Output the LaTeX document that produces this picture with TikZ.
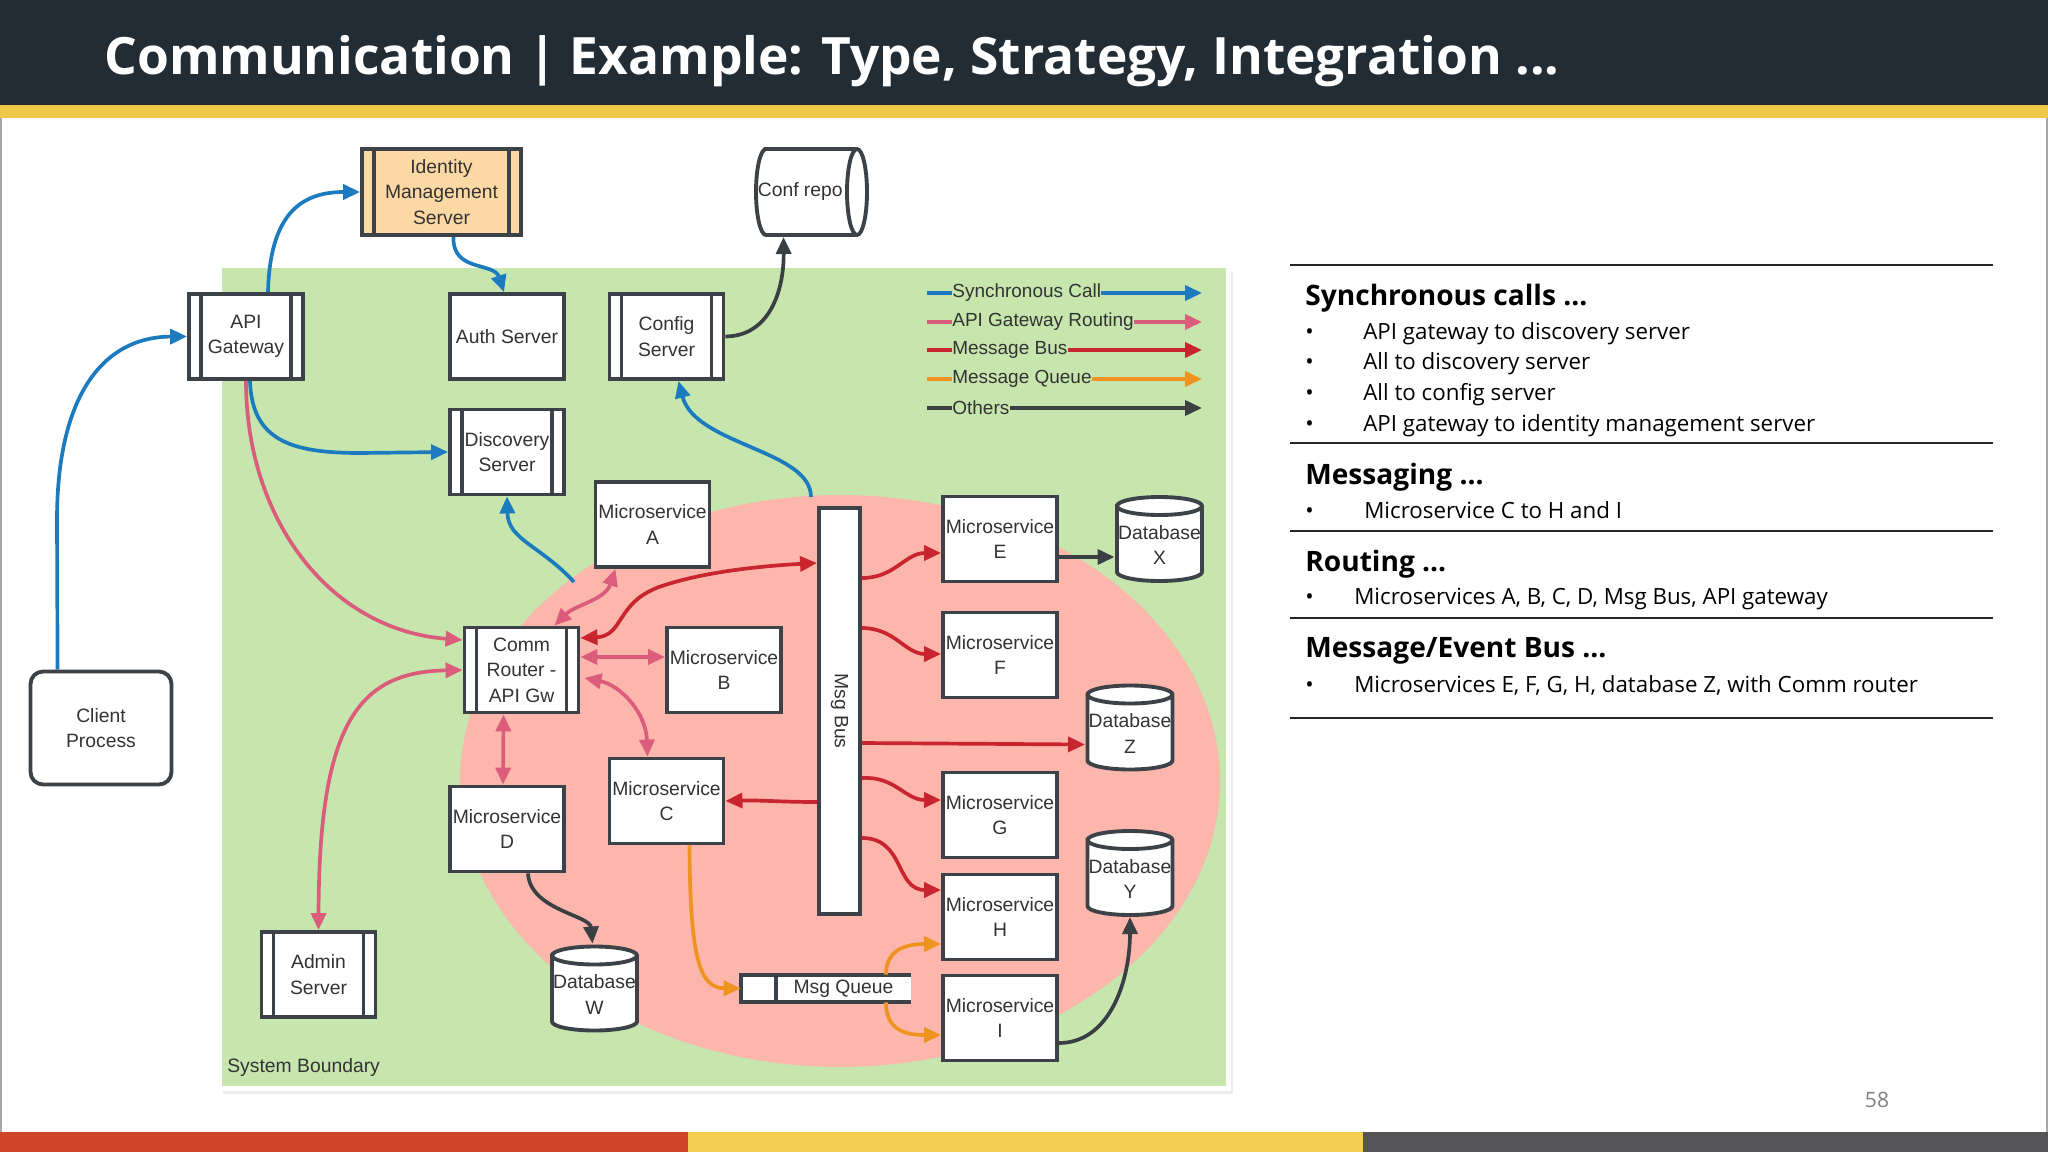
\documentclass[tikz,border=0pt]{standalone}
\usepackage{fontspec}
\setmainfont{Liberation Sans}
\newfontfamily\slidefont{Open Sans}
\usepackage{graphicx}
\usepackage{tikz}
\usetikzlibrary{arrows.meta,positioning,shapes.geometric,calc}
\usepackage{xcolor}

\definecolor{headbg}{HTML}{222C35}
\definecolor{headbar}{HTML}{F2C84B}
\definecolor{zonegreen}{HTML}{C6E6AE}
\definecolor{zonepink}{HTML}{FCB6AC}
\definecolor{edge}{HTML}{3C4248}
\definecolor{ink}{HTML}{333333}
\definecolor{synccol}{HTML}{1B7BBE}
\definecolor{routecol}{HTML}{DC5C7C}
\definecolor{buscol}{HTML}{C9252E}
\definecolor{queuecol}{HTML}{EE931F}
\definecolor{othercol}{HTML}{3A3F44}
\definecolor{peach}{HTML}{FCD9A4}
\definecolor{footred}{HTML}{CF4527}
\definecolor{footyellow}{HTML}{F4CD50}
\definecolor{footgrey}{HTML}{555557}

% database drum: name, x, y, text
\newcommand{\dbnode}[4]{%
  \draw[cylline, fill=white] ({#2-42.5},{#3-33}) -- ({#2-42.5},{#3+33})
    arc[start angle=180, end angle=360, x radius=0.85cm, y radius=0.18cm] -- ({#2+42.5},{#3-33})
    arc[start angle=0, end angle=180, x radius=0.85cm, y radius=0.18cm] -- cycle;
  \draw[cylline] ({#2-42.5},{#3-33}) arc[start angle=180, end angle=360, x radius=0.85cm, y radius=0.18cm];
  \node[dbtext] (#1) at (#2,{#3+6}) {#4};}

\begin{document}
\begin{tikzpicture}[x=0.02cm, y=-0.02cm,
  >={Triangle[length=0.34cm,width=0.3cm]},
  box/.style={draw=edge, line width=2.2pt, fill=white, minimum width=2.28cm, minimum height=1.7cm, inner sep=0pt, align=center, text=ink, font=\fontsize{11}{14.5}\selectfont},
  proc/.style={box, path picture={
    \draw[edge, line width=2.2pt]
      ([xshift=0.24cm]path picture bounding box.north west) -- ([xshift=0.24cm]path picture bounding box.south west)
      ([xshift=-0.24cm]path picture bounding box.north east) -- ([xshift=-0.24cm]path picture bounding box.south east);}},
  cylline/.style={draw=edge, line width=2.2pt},
  dbtext/.style={minimum width=1.7cm, minimum height=1.68cm, inner sep=0pt, align=center, text=ink, font=\fontsize{11}{14.5}\selectfont},
  roundbox/.style={box, rounded corners=0.25cm, minimum width=2.82cm, minimum height=2.26cm},
  qbox/.style={fill=white, minimum width=3.4cm, minimum height=0.54cm, inner sep=0pt, text=ink, font=\fontsize{11}{14.5}\selectfont},
  link/.style={line width=2.1pt, ->},
  syncarr/.style={link, color=synccol},
  routearr/.style={link, color=routecol},
  busarr/.style={link, color=buscol},
  queuearr/.style={link, color=queuecol},
  otherarr/.style={link, color=othercol},
  legtext/.style={anchor=west, inner sep=0pt, text=ink, font=\fontsize{10.8}{12}\selectfont},
  rule/.style={line width=1.1pt, draw=black!85},
  head/.style={anchor=west, inner sep=0pt, font=\slidefont\bfseries\fontsize{16}{19}\selectfont},
  item/.style={anchor=west, inner sep=0pt, font=\slidefont\fontsize{12.7}{15}\selectfont}
]
\useasboundingbox (0,0) rectangle (2048,1152);

% Slide frame
\fill[headbg] (0,0) rectangle (2048,105);
\fill[headbar] (0,105) rectangle (2048,118);
\fill[footred] (0,1132) rectangle (688,1152);
\fill[footyellow] (688,1132) rectangle (1363,1152);
\fill[footgrey] (1363,1132) rectangle (2048,1152);
\draw[black!35, line width=0.8pt] (1,118) -- (1,1132) (2047,118) -- (2047,1132);
\node[anchor=west, inner sep=0pt, text=white, font=\slidefont\bfseries\fontsize{29.3}{32}\selectfont] (title) at (104,61) {Communication | Example: Type, Strategy, Integration ...};
\node[text=black!50, font=\slidefont\fontsize{12}{14}\selectfont] (pageno) at (1877,1100) {58};

% System boundary and messaging zone
\fill[black!8] (223,271) rectangle (1233,1094);
\draw[white, line width=0.1cm, fill=zonegreen] (219,266) rectangle (1228,1088);
\fill[zonepink] (840,781) ellipse [x radius=7.6cm, y radius=5.72cm];
\node[anchor=west, inner sep=0pt, text=ink, font=\fontsize{11}{13}\selectfont] (zonelbl) at (227,1067) {System Boundary};

% Legend
\coordinate (ls1) at (927,293); \coordinate (le1) at (1202,293);
\coordinate (ls2) at (927,322); \coordinate (le2) at (1202,322);
\coordinate (ls3) at (927,350); \coordinate (le3) at (1202,350);
\coordinate (ls4) at (927,379); \coordinate (le4) at (1202,379);
\coordinate (ls5) at (927,408); \coordinate (le5) at (1202,408);
\node[legtext] (lg1) at (952,293) {Synchronous Call};
\node[legtext] (lg2) at (952,322) {API Gateway Routing};
\node[legtext] (lg3) at (952,350) {Message Bus};
\node[legtext] (lg4) at (952,379) {Message Queue};
\node[legtext] (lg5) at (952,408) {Others};
\draw[syncarr, -] (ls1) -- (lg1.west); \draw[syncarr] (lg1.east) -- (le1);
\draw[routearr, -] (ls2) -- (lg2.west); \draw[routearr] (lg2.east) -- (le2);
\draw[busarr, -] (ls3) -- (lg3.west); \draw[busarr] (lg3.east) -- (le3);
\draw[queuearr, -] (ls4) -- (lg4.west); \draw[queuearr] (lg4.east) -- (le4);
\draw[otherarr, -] (ls5) -- (lg5.west); \draw[otherarr] (lg5.east) -- (le5);

% Outside nodes
\node[proc, fill=peach, minimum width=3.18cm, minimum height=1.72cm] (idm) at (441.5,192) {Identity\\Management\\Server};
\draw[cylline, fill=white] (766,149) -- (857,149) arc[start angle=90, end angle=-90, x radius=0.2cm, y radius=0.86cm]
  -- (766,235) arc[start angle=270, end angle=90, x radius=0.2cm, y radius=0.86cm] -- cycle;
\draw[cylline] (857,149) arc[start angle=90, end angle=270, x radius=0.2cm, y radius=0.86cm];
\node[dbtext, minimum width=2.22cm, minimum height=1.72cm] (confrepo) at (811.5,192) {Conf repo\hspace*{0.45cm}};
\node[roundbox] (client) at (101,728) {Client\\Process};

% Services
\node[proc] (apigw) at (246,336.5) {API\\Gateway};
\node[box] (auth) at (507,336.5) {Auth Server};
\node[proc] (config) at (666.5,336.5) {Config\\Server};
\node[proc] (disc) at (507,452) {Discovery\\Server};
\node[box] (msa) at (652.5,524.5) {Microservice\\A};
\node[proc] (comm) at (521.5,670) {Comm\\Router -\\API Gw};
\node[box] (msb) at (724,670) {Microservice\\B};
\node[box] (msc) at (666.5,801) {Microservice\\C};
\node[box] (msd) at (507,829) {Microservice\\D};
\node[proc] (admin) at (318.5,974.5) {Admin\\Server};
\dbnode{dbw}{594.5}{988.5}{Database\\W}
\node[box, minimum width=0.82cm, minimum height=8.12cm] (msgbus) at (839.5,711) {\rotatebox{-90}{Msg Bus}};
\node[qbox] (queue) at (826,988.5) {\hspace*{0.7cm}Msg Queue};
\draw[edge, line width=2.2pt] (queue.north east) -- (queue.north west) -- (queue.south west) -- (queue.south east);
\draw[edge, line width=2.2pt] ($(queue.north west)+(35,0)$) -- ($(queue.south west)+(35,0)$);
\node[box] (mse) at (1000,539) {Microservice\\E};
\node[box] (msf) at (1000,655) {Microservice\\F};
\node[box] (msg) at (1000,815) {Microservice\\G};
\node[box] (msh) at (1000,917) {Microservice\\H};
\node[box] (msi) at (1000,1018) {Microservice\\I};
\dbnode{dbx}{1159.5}{539}{Database\\X}
\dbnode{dbz}{1130}{727.5}{Database\\Z}
\dbnode{dby}{1130}{873}{Database\\Y}

% Synchronous calls
\coordinate (zone1) at (574,582);
\coordinate (zone2) at (811,497);
\draw[syncarr] ($(client.north west)+(29,0)$) -- (57,520) .. controls (57,400) and (100,337) .. (apigw.west);
\draw[syncarr] ($(apigw.north)+(22,0)$) .. controls (270,215) and (300,192) .. (idm.west);
\draw[syncarr] ($(idm.south)+(12,0)$) .. controls (452,272) and (494,262) .. ($(auth.north)+(-3,0)$);
\draw[syncarr] ($(apigw.south)+(4,0)$) .. controls (252,440) and (290,453) .. (360,453) -- (disc.west);
\draw[syncarr] (zone1) .. controls (540,545) and (508,540) .. (disc.south);
\draw[syncarr] (zone2) .. controls (811,450) and (695,445) .. ($(config.south)+(12,0)$);

% API gateway routing
\draw[routearr] (apigw.south) .. controls (246,520) and (330,630) .. ($(comm.west)+(0,-30)$);
\draw[routearr, <->] (admin.north) .. controls (319,720) and (360,672) .. (comm.west);
\draw[routearr, <->] ($(comm.north east)+(-26,0)$) .. controls (575,605) and (605,600) .. ($(msa.south)+(-37,0)$);
\draw[routearr, <->] ($(comm.east)+(0,-13)$) -- ($(msb.west)+(0,-13)$);
\draw[routearr, <->] ($(comm.east)+(4,8)$) .. controls (620,685) and (646,712) .. ($(msc.north)+(-19,0)$);
\draw[routearr, <->] ($(comm.south)+(-18,0)$) -- ($(msd.north)+(-4,0)$);

% Message bus
\draw[busarr, <->] ($(comm.east)+(0,-32)$) .. controls (625,636) and (615,600) .. (665,585) .. controls (705,572) and (760,566) .. ($(msgbus.west)+(0,-148)$);
\draw[busarr] ($(msgbus.east)+(0,-133)$) .. controls (895,578) and (905,553) .. ($(mse.west)+(0,14)$);
\draw[busarr] ($(msgbus.east)+(0,-83)$) .. controls (895,628) and (905,654) .. ($(msf.west)+(0,-1)$);
\draw[busarr] ($(msgbus.east)+(0,32)$) -- ($(dbz.center)+(-45,11)$);
\draw[busarr] ($(msgbus.east)+(0,67)$) .. controls (895,776) and (905,800) .. ($(msg.west)+(0,-15)$);
\draw[busarr] ($(msgbus.east)+(0,127)$) .. controls (905,838) and (895,890) .. ($(msh.west)+(0,-27)$);
\draw[busarr] ($(msgbus.west)+(0,91)$) .. controls (780,802) and (760,800) .. (msc.east);

% Message queue
\draw[queuearr] ($(msc.south)+(23,0)$) .. controls (690,960) and (700,988) .. (queue.west);
\draw[queuearr] ($(queue.north)+(60,0)$) .. controls (886,950) and (905,944) .. ($(msh.west)+(0,27)$);
\draw[queuearr] ($(queue.south)+(60,0)$) .. controls (886,1030) and (905,1035) .. ($(msi.west)+(0,17)$);

% Others
\draw[otherarr] (config.east) .. controls (770,336) and (784,290) .. ($(confrepo.center)+(-28,45)$);
\draw[otherarr] ($(mse.east)+(0,18)$) -- ($(dbx.center)+(-45,12)$);
\draw[otherarr] ($(msd.south)+(21,0)$) .. controls (530,910) and (590,915) .. ($(dbw.center)+(-2,-51)$);
\draw[otherarr] ($(msi.east)+(0,25)$) .. controls (1110,1043) and (1130,980) .. ($(dby.center)+(0,38)$);

% Notes panel
\draw[rule] (1290,265) -- (1993,265);
\draw[rule] (1290,443) -- (1993,443);
\draw[rule] (1290,531) -- (1993,531);
\draw[rule] (1290,618) -- (1993,618);
\draw[rule] (1290,718) -- (1993,718);
\node[head] (hsync) at (1305,298) {Synchronous calls ...};
\node[item] (s1) at (1305,334) {\makebox[1.16cm][l]{•}API gateway to discovery server};
\node[item] (s2) at (1305,364) {\makebox[1.16cm][l]{•}All to discovery server};
\node[item] (s3) at (1305,395) {\makebox[1.16cm][l]{•}All to config server};
\node[item] (s4) at (1305,426) {\makebox[1.16cm][l]{•}API gateway to identity management server};
\node[head] (hmsg) at (1305,477) {Messaging ...};
\node[item] (m1) at (1305,510) {\makebox[1.18cm][l]{•}Microservice C to H and I};
\node[head] (hroute) at (1305,564) {Routing ...};
\node[item] (r1) at (1305,599) {\makebox[0.98cm][l]{•}Microservices A, B, C, D, Msg Bus, API gateway};
\node[head] (hbus) at (1305,651) {Message/Event Bus ...};
\node[item] (e1) at (1305,685) {\makebox[0.98cm][l]{•}Microservices E, F, G, H, database Z, with Comm router};
\end{tikzpicture}
\end{document}
